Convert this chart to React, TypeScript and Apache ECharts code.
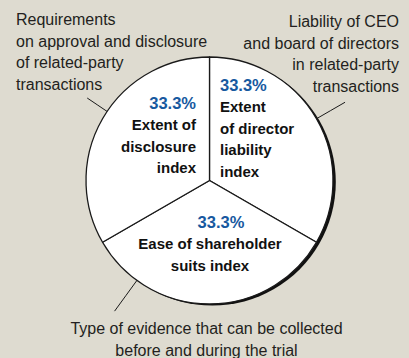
import React, { useEffect, useRef } from "react";
import * as echarts from "echarts";

// Data
const shares = [33.3, 33.3, 33.3];
const indexNames = [
  "Extent\nof director\nliability\nindex",
  "Ease of shareholder\nsuits index",
  "Extent of\ndisclosure\nindex",
];
const componentNames = [
  "Liability of CEO\nand board of directors\nin related-party\ntransactions",
  "Type of evidence that can be collected\nbefore and during the trial",
  "Requirements\non approval and disclosure\nof related-party\ntransactions",
];

// Layout / style (kept apart from data)
const CX = 209.5;
const CY = 180.5;
const R = 123.5;
const TEXT = "#231F20";
const BLUE = "#17599F";
const FONT = "Liberation Sans";

const innerLayout = [
  { x: 220, y: 74.5, align: "left", pad: 0 },
  { x: 210, y: 211.5, align: "center", pad: 22 },
  { x: 196, y: 92.5, align: "right", pad: 0 },
];
const outerLayout = [
  { x: 399, y: 11, align: "right", angle: 30, len: 33 },
  { x: 206.5, y: 318, align: "center", angle: 234, len: 38 },
  { x: 16, y: 9, align: "left", angle: 146, len: 24 },
];

export default function App() {
  const ref = useRef<HTMLDivElement>(null);
  useEffect(() => {
    const chart = echarts.init(ref.current!, null, { renderer: "svg" });

    const innerData = shares.map((v, i) => {
      const a = innerLayout[i].align;
      return {
        value: v,
        name: indexNames[i],
        label: {
          align: a,
          rich: {
            p: {
              fontFamily: FONT,
              fontWeight: "bold",
              fontSize: 16.5,
              color: BLUE,
              lineHeight: 21.5,
              align: a,
              padding: [0, 0, 0, innerLayout[i].pad],
            },
            n: {
              fontFamily: FONT,
              fontWeight: "bold",
              fontSize: 15,
              color: "#111",
              lineHeight: 21.5,
              align: a,
            },
          },
        },
      };
    });

    const outerData = shares.map((v, i) => ({
      value: v,
      name: componentNames[i],
      label: { align: outerLayout[i].align },
    }));

    const edgePoint = (angle: number, r: number) => {
      const t = (angle * Math.PI) / 180;
      return [CX + r * Math.cos(t), CY - r * Math.sin(t)];
    };

    const option: any = {
      animation: false,
      backgroundColor: "#DEDBD0",
      graphic: [
        {
          type: "circle",
          z: 0,
          silent: true,
          shape: { cx: CX + 2.8, cy: CY + 1.6, r: R },
          style: { fill: "#111" },
        },
      ],
      series: [
        {
          type: "pie",
          z: 2,
          center: [CX, CY],
          radius: R,
          startAngle: 90,
          clockwise: true,
          silent: true,
          emphasis: { disabled: true },
          itemStyle: { color: "#ffffff", borderColor: "#1a1a1a", borderWidth: 1.3 },
          label: {
            show: true,
            position: "inside",
            overflow: "none",
            formatter: (p: any) =>
              `{p|${p.value}%}\n` +
              String(p.name)
                .split("\n")
                .map((l: string) => `{n|${l}}`)
                .join("\n"),
          },
          labelLine: { show: false },
          labelLayout: (p: any) => {
            const L = innerLayout[p.dataIndex];
            return { x: L.x, y: L.y, align: L.align, verticalAlign: "top" };
          },
          data: innerData,
        },
        {
          type: "pie",
          z: 3,
          center: [CX, CY],
          radius: R,
          startAngle: 90,
          clockwise: true,
          silent: true,
          emphasis: { disabled: true },
          itemStyle: { color: "rgba(0,0,0,0)", borderWidth: 0 },
          label: {
            show: true,
            position: "outside",
            overflow: "none",
            formatter: "{b}",
            fontFamily: FONT,
            fontSize: 16,
            lineHeight: 21.5,
            color: TEXT,
          },
          labelLine: { show: true, lineStyle: { color: "#1a1a1a", width: 1 } },
          labelLayout: (p: any) => {
            const L = outerLayout[p.dataIndex];
            const a = edgePoint(L.angle, R);
            const m = edgePoint(L.angle, R + L.len / 2);
            const b = edgePoint(L.angle, R + L.len);
            return {
              x: L.x,
              y: L.y,
              align: L.align,
              verticalAlign: "top",
              labelLinePoints: [a, m, b],
            };
          },
          data: outerData,
        },
      ],
    };

    chart.setOption(option);
    return () => chart.dispose();
  }, []);

  return (
    <div
      ref={ref}
      style={{ position: "fixed", left: 0, top: 0, width: 409, height: 358 }}
    />
  );
}
